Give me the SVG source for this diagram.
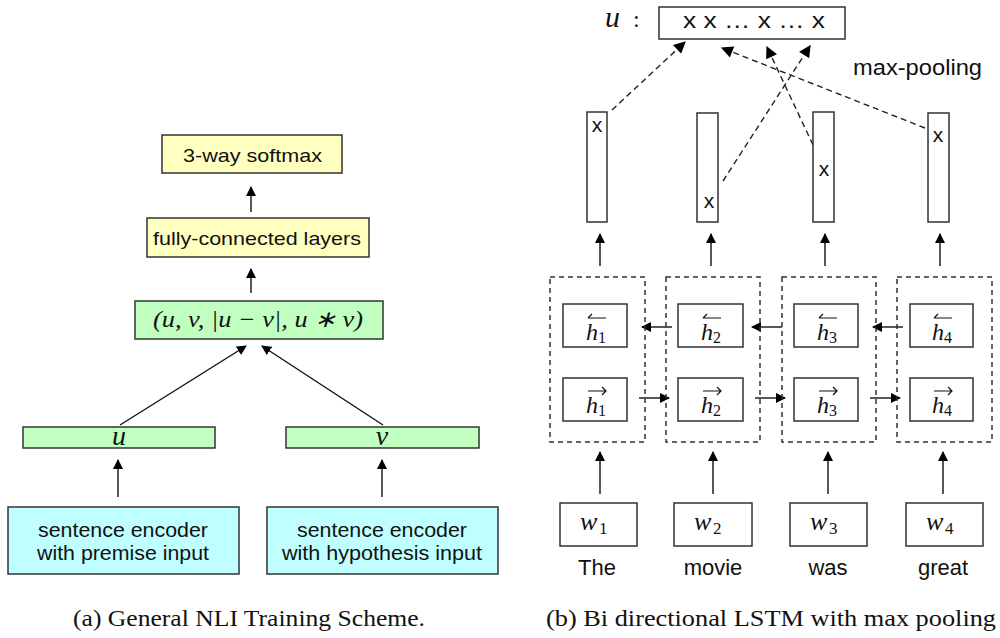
<svg xmlns="http://www.w3.org/2000/svg" width="1000" height="638" viewBox="0 0 1000 638">
<defs>
<marker id="ah" viewBox="0 0 10 10" refX="9" refY="5" markerWidth="10" markerHeight="10" markerUnits="userSpaceOnUse" orient="auto"><path d="M0,0 L10,5 L0,10 z" fill="#000"/></marker>
<marker id="ahs" viewBox="0 0 10 10" refX="9" refY="5" markerWidth="14" markerHeight="12" markerUnits="userSpaceOnUse" orient="auto"><path d="M0,0 L10,5 L0,10 z" fill="#000"/></marker>
</defs>
<style>
.box{stroke:#333;stroke-width:1.5}
.yel{fill:#ffffc0}
.grn{fill:#c0ffc0}
.cyn{fill:#c0ffff}
.wht{fill:#fff}
.dash{fill:none;stroke:#333;stroke-width:1.5;stroke-dasharray:5,4}
.sans{font-family:"Liberation Sans",Arial,sans-serif;fill:#111}
.math{font-family:"Liberation Serif","Times New Roman",serif;font-style:italic;fill:#111}
.mr{font-family:"Liberation Serif","Times New Roman",serif;fill:#111}
.cap{font-family:"Liberation Serif","Times New Roman",serif;font-size:23px;fill:#111}
.ln{stroke:#111;stroke-width:1.4;fill:none}
.acc{stroke:#111;stroke-width:1.2;fill:none}
.dl{stroke:#222;stroke-width:1.4;fill:none;stroke-dasharray:6,4}
.hh{font-size:24px}
.hs{font-size:16px}
.ww{font-size:26px}
.ws{font-size:17px}
</style>

<g id="connectors">
<line class="ln" x1="251" y1="212" x2="251" y2="187" marker-end="url(#ah)"/>
<line class="ln" x1="251" y1="293" x2="251" y2="269" marker-end="url(#ah)"/>
<line class="ln" x1="120" y1="425" x2="246" y2="346" marker-end="url(#ah)"/>
<line class="ln" x1="383" y1="425" x2="262" y2="346" marker-end="url(#ah)"/>
<line class="ln" x1="118" y1="497" x2="118" y2="460" marker-end="url(#ah)"/>
<line class="ln" x1="382" y1="497" x2="382" y2="460" marker-end="url(#ah)"/>

<line class="dl" x1="612" y1="110" x2="685" y2="42" marker-end="url(#ahs)"/>
<line class="dl" x1="723" y1="181" x2="810" y2="46" marker-end="url(#ahs)"/>
<line class="dl" x1="813" y1="145" x2="767" y2="47" marker-end="url(#ahs)"/>
<line class="dl" x1="925" y1="128" x2="722" y2="48" marker-end="url(#ahs)"/>

<line class="ln" x1="600" y1="266" x2="600" y2="234" marker-end="url(#ah)"/>
<line class="ln" x1="711" y1="266" x2="711" y2="234" marker-end="url(#ah)"/>
<line class="ln" x1="825" y1="266" x2="825" y2="234" marker-end="url(#ah)"/>
<line class="ln" x1="940" y1="266" x2="940" y2="234" marker-end="url(#ah)"/>

<line class="ln" x1="672" y1="327" x2="642" y2="327" marker-end="url(#ah)"/>
<line class="ln" x1="782" y1="327" x2="752" y2="327" marker-end="url(#ah)"/>
<line class="ln" x1="903" y1="327" x2="873" y2="327" marker-end="url(#ah)"/>
<line class="ln" x1="639" y1="398" x2="669" y2="398" marker-end="url(#ah)"/>
<line class="ln" x1="755" y1="398" x2="785" y2="398" marker-end="url(#ah)"/>
<line class="ln" x1="870" y1="398" x2="900" y2="398" marker-end="url(#ah)"/>

<line class="ln" x1="600" y1="494" x2="600" y2="452" marker-end="url(#ah)"/>
<line class="ln" x1="713" y1="494" x2="713" y2="452" marker-end="url(#ah)"/>
<line class="ln" x1="828" y1="494" x2="828" y2="452" marker-end="url(#ah)"/>
<line class="ln" x1="943" y1="494" x2="943" y2="452" marker-end="url(#ah)"/>
</g>

<g id="softmax"><rect class="box yel" x="162" y="135" width="180" height="38"/><text class="sans" x="183" y="162" font-size="19" textLength="139" lengthAdjust="spacingAndGlyphs">3-way softmax</text></g>
<g id="fc"><rect class="box yel" x="147" y="218" width="222" height="39"/><text class="sans" x="153" y="245" font-size="19" textLength="208" lengthAdjust="spacingAndGlyphs">fully-connected layers</text></g>
<g id="concat"><rect class="box grn" x="135" y="301" width="248" height="38"/><text class="math" x="153" y="327" font-size="23" textLength="210" lengthAdjust="spacingAndGlyphs">(u, v, |u − v|, u ∗ v)</text></g>
<g id="u-vec"><rect class="box grn" x="23" y="427" width="192" height="21"/><text class="math" x="119" y="445" font-size="28" text-anchor="middle">u</text></g>
<g id="v-vec"><rect class="box grn" x="286" y="427" width="193" height="21"/><text class="math" x="382" y="445" font-size="28" text-anchor="middle">v</text></g>
<g id="enc-premise"><rect class="box cyn" x="8" y="507" width="231" height="67"/><text class="sans" x="38" y="537" font-size="21" textLength="170" lengthAdjust="spacingAndGlyphs">sentence encoder</text><text class="sans" x="37" y="560" font-size="21" textLength="172" lengthAdjust="spacingAndGlyphs">with premise input</text></g>
<g id="enc-hyp"><rect class="box cyn" x="267" y="507" width="231" height="67"/><text class="sans" x="297" y="537" font-size="21" textLength="170" lengthAdjust="spacingAndGlyphs">sentence encoder</text><text class="sans" x="282" y="560" font-size="21" textLength="200" lengthAdjust="spacingAndGlyphs">with hypothesis input</text></g>
<text class="cap" x="73" y="626" textLength="352" lengthAdjust="spacingAndGlyphs">(a) General NLI Training Scheme.</text>

<g id="u-out"><text class="math" x="605" y="27" font-size="30">u</text><text class="mr" x="633" y="27" font-size="24">:</text><rect class="box wht" x="659" y="7" width="186" height="32"/><text class="sans" x="683" y="28" font-size="22" textLength="142" lengthAdjust="spacingAndGlyphs">x  x … x … x</text></g>
<text class="sans" x="853" y="75" font-size="22" textLength="129" lengthAdjust="spacingAndGlyphs">max-pooling</text>

<g id="bar1"><rect class="box wht" x="587" y="112" width="20" height="110"/><text class="sans" x="597" y="132" font-size="21" text-anchor="middle">x</text></g>
<g id="bar2"><rect class="box wht" x="697" y="113" width="21" height="109"/><text class="sans" x="709" y="208" font-size="21" text-anchor="middle">x</text></g>
<g id="bar3"><rect class="box wht" x="813" y="112" width="21" height="110"/><text class="sans" x="824" y="176" font-size="21" text-anchor="middle">x</text></g>
<g id="bar4"><rect class="box wht" x="928" y="113" width="21" height="109"/><text class="sans" x="938" y="142" font-size="21" text-anchor="middle">x</text></g>

<g id="cell1"><rect class="dash" x="550" y="277" width="95" height="165"/>
<rect class="box wht" x="563" y="304" width="64" height="43"/><text class="math hh" x="586" y="340">h</text><text class="mr hs" x="598" y="343">1</text><path class="acc" d="M588,318 H606 M592,314 L588,318"/>
<rect class="box wht" x="563" y="378" width="64" height="43"/><text class="math hh" x="586" y="413">h</text><text class="mr hs" x="598" y="416">1</text><path class="acc" d="M588,391 H606 M602,387 L606,391 L602,395"/>
</g>
<g id="cell2"><rect class="dash" x="666" y="277" width="94" height="165"/>
<rect class="box wht" x="678" y="304" width="65" height="43"/><text class="math hh" x="701" y="340">h</text><text class="mr hs" x="713" y="343">2</text><path class="acc" d="M703,318 H721 M707,314 L703,318"/>
<rect class="box wht" x="678" y="378" width="65" height="43"/><text class="math hh" x="701" y="413">h</text><text class="mr hs" x="713" y="416">2</text><path class="acc" d="M703,391 H721 M717,387 L721,391 L717,395"/>
</g>
<g id="cell3"><rect class="dash" x="782" y="277" width="94" height="165"/>
<rect class="box wht" x="794" y="304" width="64" height="43"/><text class="math hh" x="817" y="340">h</text><text class="mr hs" x="829" y="343">3</text><path class="acc" d="M819,318 H837 M823,314 L819,318"/>
<rect class="box wht" x="794" y="378" width="64" height="43"/><text class="math hh" x="817" y="413">h</text><text class="mr hs" x="829" y="416">3</text><path class="acc" d="M819,391 H837 M833,387 L837,391 L833,395"/>
</g>
<g id="cell4"><rect class="dash" x="897" y="277" width="95" height="165"/>
<rect class="box wht" x="910" y="304" width="63" height="43"/><text class="math hh" x="932" y="340">h</text><text class="mr hs" x="944" y="343">4</text><path class="acc" d="M934,318 H952 M938,314 L934,318"/>
<rect class="box wht" x="910" y="378" width="63" height="43"/><text class="math hh" x="932" y="413">h</text><text class="mr hs" x="944" y="416">4</text><path class="acc" d="M934,391 H952 M948,387 L952,391 L948,395"/>
</g>

<g id="w1"><rect class="box wht" x="560" y="503" width="77" height="43"/><text class="math ww" x="580" y="530">w</text><text class="mr ws" x="599" y="534">1</text><text class="sans" x="597" y="575" font-size="22" text-anchor="middle">The</text></g>
<g id="w2"><rect class="box wht" x="674" y="503" width="78" height="43"/><text class="math ww" x="694" y="530">w</text><text class="mr ws" x="713" y="534">2</text><text class="sans" x="713" y="575" font-size="22" text-anchor="middle">movie</text></g>
<g id="w3"><rect class="box wht" x="790" y="503" width="77" height="43"/><text class="math ww" x="810" y="530">w</text><text class="mr ws" x="829" y="534">3</text><text class="sans" x="828" y="575" font-size="22" text-anchor="middle">was</text></g>
<g id="w4"><rect class="box wht" x="906" y="503" width="77" height="43"/><text class="math ww" x="926" y="530">w</text><text class="mr ws" x="945" y="534">4</text><text class="sans" x="943" y="575" font-size="22" text-anchor="middle">great</text></g>
<text class="cap" x="546" y="626" textLength="450" lengthAdjust="spacingAndGlyphs">(b) Bi directional LSTM with max pooling</text>
</svg>
